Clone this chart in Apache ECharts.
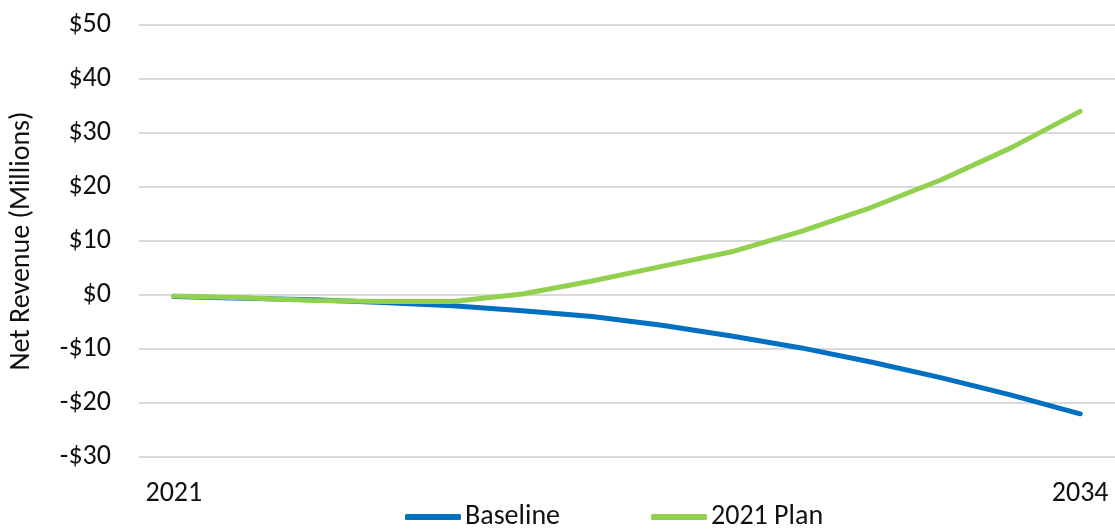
<!DOCTYPE html>
<html>
<head>
<meta charset="utf-8">
<script src="https://cdn.jsdelivr.net/npm/echarts@6/dist/echarts.min.js"></script>
<style>
html,body{margin:0;padding:0;background:#fff;}
#chart{width:1115px;height:531px;}
</style>
</head>
<body>
<div id="chart"></div>
<script>
const years = ['2021','2022','2023','2024','2025','2026','2027','2028','2029','2030','2031','2032','2033','2034'];
const baseline = [-0.3, -0.6, -0.9, -1.4, -2.0, -2.9, -4.0, -5.6, -7.6, -9.8, -12.4, -15.3, -18.5, -22.0];
const plan2021 = [-0.2, -0.5, -1.0, -1.2, -1.2, 0.2, 2.6, 5.3, 8.0, 11.8, 16.2, 21.3, 27.2, 34.0];
const yTicks = [-30, -20, -10, 0, 10, 20, 30, 40, 50];

const FONT = "Carlito, 'Liberation Sans', Arial, sans-serif";
const FS = 28;
const chart = echarts.init(document.getElementById('chart'));
chart.setOption({
  animation: false,
  textStyle: { fontFamily: FONT },
  grid: { left: 138, right: -5, top: 25, bottom: 74, containLabel: false },
  legend: {
    bottom: -5,
    left: 400,
    icon: 'roundRect',
    itemWidth: 56,
    itemHeight: 6,
    itemGap: 91,
    textStyle: { fontFamily: FONT, fontSize: FS, color: '#111', padding: [0,0,0,-1] },
    data: ['Baseline', '2021 Plan']
  },
  xAxis: {
    type: 'category',
    data: years,
    boundaryGap: true,
    axisLine: { show: false },
    axisTick: { show: false },
    splitLine: { show: false },
    axisLabel: {
      interval: (i) => i === 0 || i === years.length - 1,
      margin: 23,
      fontSize: FS,
      color: '#111',
      fontFamily: FONT
    }
  },
  yAxis: {
    type: 'value',
    min: yTicks[0],
    max: yTicks[yTicks.length - 1],
    interval: 10,
    name: 'Net Revenue (Millions)',
    nameLocation: 'middle',
    nameRotate: 90,
    nameGap: 103,
    nameTextStyle: { fontSize: FS, color: '#111', fontFamily: FONT },
    axisLine: { show: false },
    axisTick: { show: false },
    splitLine: { lineStyle: { color: '#d9d9d9', width: 2 } },
    axisLabel: {
      margin: 28,
      fontSize: FS,
      color: '#111',
      fontFamily: FONT,
      formatter: (v) => (v < 0 ? '-$' + Math.abs(v) : '$' + v)
    }
  },
  series: [
    {
      name: 'Baseline',
      type: 'line',
      data: baseline,
      showSymbol: false,
      symbol: 'none',
      color: '#0070C0',
      lineStyle: { width: 5, color: '#0070C0', cap: 'round', join: 'round' }
    },
    {
      name: '2021 Plan',
      type: 'line',
      data: plan2021,
      showSymbol: false,
      symbol: 'none',
      color: '#92D050',
      lineStyle: { width: 5, color: '#92D050', cap: 'round', join: 'round' }
    }
  ]
});
</script>
</body>
</html>
